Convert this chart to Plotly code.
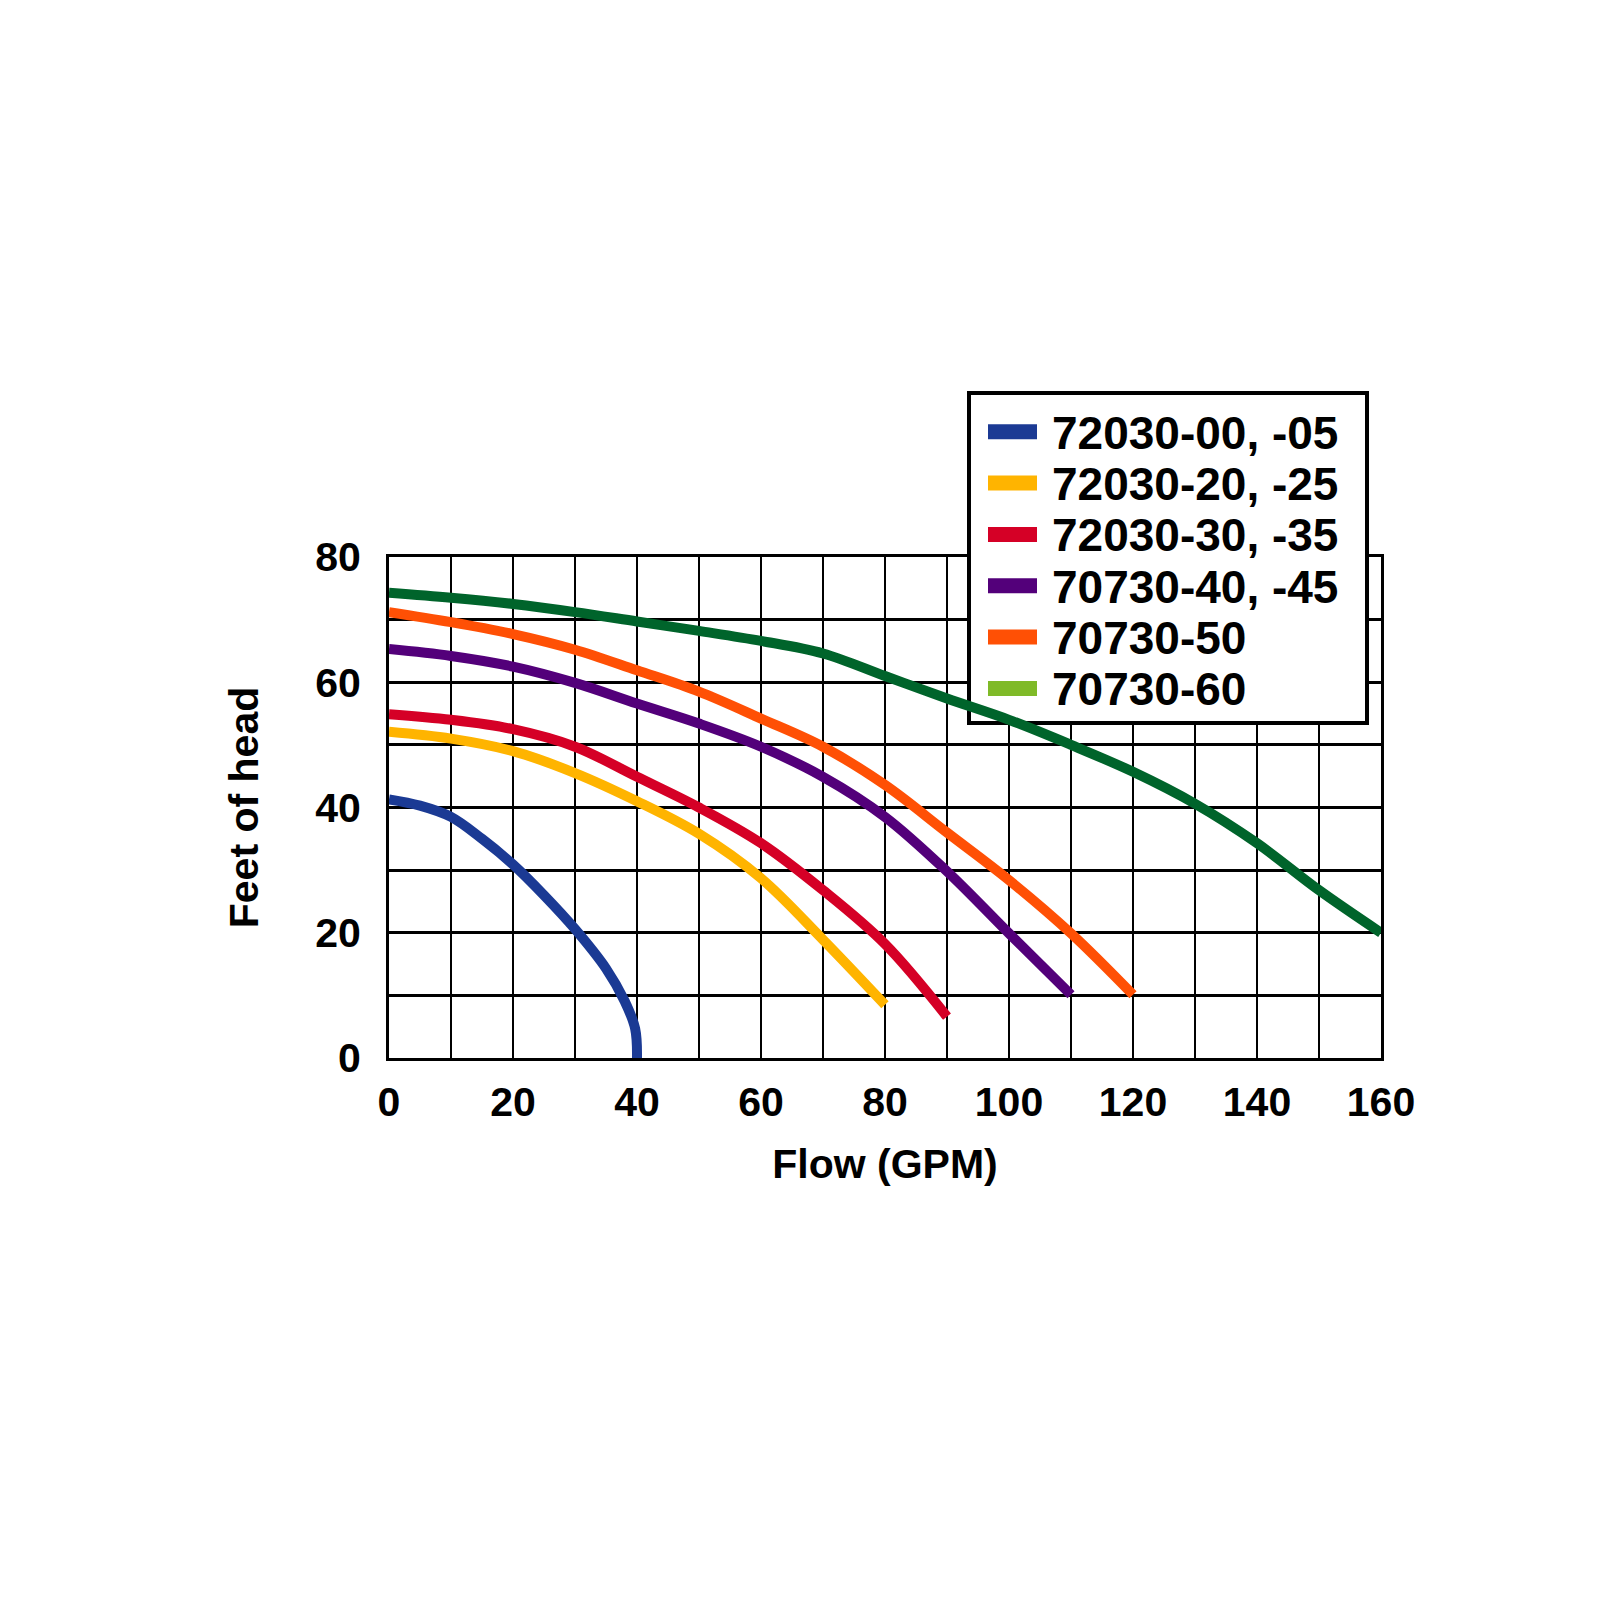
import plotly.graph_objects as go

# ---- data ----
series_names = ["72030-00, -05", "72030-20, -25", "72030-30, -35",
                "70730-40, -45", "70730-50", "70730-60"]
line_colors = ["#1B3A94", "#FFB400", "#D50026", "#53007A", "#FF5005", "#00642B"]
legend_colors = ["#1B3A94", "#FFB400", "#D50026", "#53007A", "#FF5005", "#7FBA28"]

flow_00 = [0, 5, 10, 15, 20, 25, 30, 35, 38, 39.7, 40]
head_00 = [41.3, 40.3, 38.5, 35.0, 30.9, 26.0, 20.6, 14.3, 9.1, 4.7, 0]

flow_20 = [0, 10, 20, 30, 40, 50, 60, 70, 80]
head_20 = [52.1, 51.0, 49.0, 45.5, 41.0, 35.8, 28.7, 18.9, 8.5]

flow_30 = [0, 10, 20, 30, 40, 50, 60, 70, 80, 90]
head_30 = [54.9, 54.0, 52.5, 49.7, 44.9, 40.0, 34.3, 26.8, 18.2, 6.6]

flow_40 = [0, 10, 20, 30, 40, 50, 60, 70, 80, 90, 100, 110]
head_40 = [65.3, 64.2, 62.5, 59.9, 56.6, 53.4, 49.7, 44.9, 38.5, 29.8, 19.9, 10.1]

flow_50 = [0, 10, 20, 30, 40, 50, 60, 70, 80, 90, 100, 110, 120]
head_50 = [71.2, 69.6, 67.7, 65.2, 61.9, 58.5, 54.2, 49.7, 43.6, 36.0, 28.4, 19.9, 10.1]

flow_60 = [0, 10, 20, 30, 40, 50, 60, 70, 80, 90, 100, 110, 120, 130, 140, 150, 160]
head_60 = [74.3, 73.5, 72.5, 71.2, 69.7, 68.2, 66.6, 64.6, 61.0, 57.4, 54.0, 50.0,
           45.7, 40.6, 34.3, 26.8, 20.0]

x_tick_values = list(range(0, 161, 10))
x_tick_labels = ["0", "", "20", "", "40", "", "60", "", "80", "", "100", "", "120", "", "140", "", "160"]
y_tick_values = list(range(0, 81, 10))
y_tick_labels = ["0", "", "20", "", "40", "", "60", "", "80"]

flows = [flow_00, flow_20, flow_30, flow_40, flow_50, flow_60]
heads = [head_00, head_20, head_30, head_40, head_50, head_60]

# ---- layout geometry ----
W = H = 1601
OFF = 8                      # default page body margin
L, R, T, B = 381, 228, 549, 551
PW = W - L - R
PH = H - T - B
FONT = "Liberation Sans, Arial, Helvetica, sans-serif"


def px_x(X):   # page px -> paper x
    return (X - OFF - L) / PW


def px_y(Y):   # page px -> paper y
    return (H - B - (Y - OFF)) / PH


def dx(X):     # page px -> data x
    return px_x(X) * 160


def dy(Y):     # page px -> data y
    return px_y(Y) * 80


fig = go.Figure()
for name, col, fx, hy in zip(series_names, line_colors, flows, heads):
    fig.add_trace(go.Scatter(
        x=fx, y=hy, mode="lines", name=name, showlegend=False,
        line=dict(color=col, width=10, shape="spline", smoothing=1.0),
        hoverinfo="x+y+name",
    ))

# ---- legend box (drawn by hand so the curve can pass over it, as in the original) ----
PT = 557                                   # page y of plot top
bx0, bx1, by0, by1 = 969, 1367, 393, 723   # border centre lines (page px)
shapes = []
shapes.append(dict(type="rect", xref="paper", yref="paper", layer="above",
                   x0=px_x(bx0 - 2), x1=px_x(bx1 + 2), y0=px_y(by0 - 2), y1=px_y(PT + 2),
                   fillcolor="white", line=dict(width=0)))
shapes.append(dict(type="path", xref="paper", yref="paper", layer="above",
                   path=f"M {px_x(bx0)},{px_y(PT + 2)} L {px_x(bx0)},{px_y(by0)} "
                        f"L {px_x(bx1)},{px_y(by0)} L {px_x(bx1)},{px_y(PT + 2)}",
                   line=dict(color="black", width=4)))
shapes.append(dict(type="rect", xref="x", yref="y", layer="between",
                   x0=dx(bx0 - 2), x1=dx(bx1 + 2), y0=dy(by1 + 2), y1=dy(PT - 3),
                   fillcolor="white", line=dict(width=0)))
shapes.append(dict(type="path", xref="x", yref="y", layer="between",
                   path=f"M {dx(bx0)},{dy(PT - 3)} L {dx(bx0)},{dy(by1)} "
                        f"L {dx(bx1)},{dy(by1)} L {dx(bx1)},{dy(PT - 3)}",
                   line=dict(color="black", width=4)))

annotations = []
row_y0, row_step = 431.7, 51.35
for i, (name, col) in enumerate(zip(series_names, legend_colors)):
    yc = row_y0 + i * row_step
    shapes.append(dict(type="rect", xref="paper", yref="paper", layer="above",
                       x0=px_x(988), x1=px_x(1037), y0=px_y(yc + 7.5), y1=px_y(yc - 7.5),
                       fillcolor=col, line=dict(width=0)))
    annotations.append(dict(xref="paper", yref="paper", x=px_x(1050), y=px_y(yc + 1),
                            xanchor="left", yanchor="middle", showarrow=False, text=name,
                            font=dict(family=FONT, size=46, color="black", weight="bold")))

axis_common = dict(showline=True, mirror=True, linecolor="black", linewidth=3,
                   gridcolor="black", zeroline=False, ticks="")

fig.update_layout(
    width=W, height=H,
    margin=dict(l=L, r=R, t=T, b=B),
    paper_bgcolor="white", plot_bgcolor="white",
    showlegend=False,
    font=dict(family=FONT, color="black", weight="bold"),
    xaxis=dict(range=[0, 160], tickmode="array", tickvals=x_tick_values, ticktext=x_tick_labels,
               gridwidth=2, ticklabelstandoff=6,
               tickfont=dict(family=FONT, size=41, color="black", weight="bold"),
               title=dict(text="Flow (GPM)", font=dict(family=FONT, size=41, weight="bold"),
                          standoff=26),
               **axis_common),
    yaxis=dict(range=[0, 80], tickmode="array", tickvals=y_tick_values, ticktext=y_tick_labels,
               gridwidth=3, ticklabelstandoff=17,
               tickfont=dict(family=FONT, size=41, color="black", weight="bold"),
               title=dict(text="Feet of head", font=dict(family=FONT, size=41, weight="bold"),
                          standoff=44),
               **axis_common),
    shapes=shapes,
    annotations=annotations,
)

fig.write_html("out.html")
